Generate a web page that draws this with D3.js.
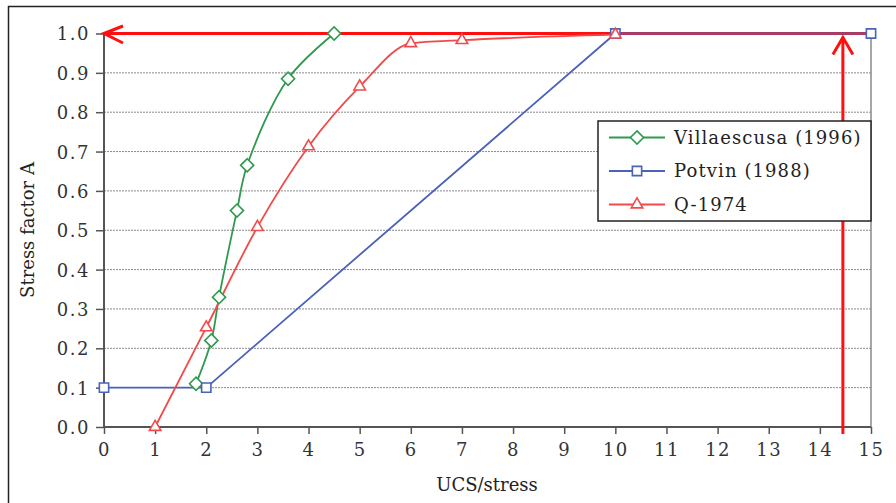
<!DOCTYPE html>
<html>
<head>
<meta charset="utf-8">
<script src="https://cdn.jsdelivr.net/npm/d3@7"></script>
<style>
  html, body { margin: 0; padding: 0; background: #fff; }
</style>
</head>
<body>
<svg id="chart" width="896" height="503"></svg>
<script>
// data
const xTicks = d3.range(0, 16);
const yTicks = d3.range(0, 11).map(d => d / 10);

const villaX = [1.8, 2.1, 2.25, 2.6, 2.8, 3.6, 4.5];
const villaY = [0.11, 0.22, 0.33, 0.55, 0.665, 0.885, 1.0];

const potvinX = [0, 2, 10, 15];
const potvinY = [0.1, 0.1, 1.0, 1.0];

const qX = [1, 2, 3, 4, 5, 6, 7, 10];
const qY = [0.0, 0.253, 0.508, 0.713, 0.865, 0.975, 0.983, 0.997];

// red guide arrows
const arrowX = [14.45];
const arrowY = [1.0];

const seriesNames = ["Villaescusa (1996)", "Potvin (1988)", "Q-1974"];
const seriesColors = ["#2e9a4e", "#4a62b8", "#f24a4a"];
const seriesMarks = ["diamond", "square", "triangle"];

const xTitle = "UCS/stress";
const yTitle = "Stress factor A";

const FONT = "'DejaVu Serif', 'Liberation Serif', serif";

{
    const svg = d3.select("#chart")
        , margin = { left: 104, top: 33.5, right: 25, bottom: 76 }
        , width = 896 - margin.left - margin.right
        , height = 503 - margin.top - margin.bottom
        , x = d3.scaleLinear().domain([0, 15]).range([0, width])
        , y = d3.scaleLinear().domain([0, 1]).range([height, 0]);

    // outer frame
    svg.append("path")
        .attr("d", "M8.5,503 L8.5,6.5 L896,6.5")
        .attr("fill", "none")
        .attr("stroke", "#222")
        .attr("stroke-width", 1.5);

    const g = svg.append("g")
        .attr("transform", "translate(" + margin.left + "," + margin.top + ")");

    // gridlines
    g.append("g")
        .selectAll("line")
        .data(yTicks.filter(d => d > 0 && d < 1))
        .enter().append("line")
        .attr("x1", 0)
        .attr("x2", width)
        .attr("y1", d => y(d))
        .attr("y2", d => y(d))
        .attr("stroke", "#8a8a8a")
        .attr("stroke-width", 1)
        .attr("stroke-dasharray", "2,1");

    // right border of plot
    g.append("line")
        .attr("x1", width).attr("x2", width)
        .attr("y1", 0).attr("y2", height)
        .attr("stroke", "#888")
        .attr("stroke-width", 1.5);

    // axes
    const xAxis = d3.axisBottom(x).tickValues(xTicks).tickSize(7).tickPadding(9).tickFormat(d3.format("d"))
        , yAxis = d3.axisLeft(y).tickValues(yTicks).tickSize(8).tickPadding(6).tickFormat(d3.format(".1f"));

    const gx = g.append("g")
        .attr("transform", "translate(0," + height + ")")
        .call(xAxis);
    const gy = g.append("g").call(yAxis);

    [gx, gy].forEach(a => {
        a.attr("font-family", null).attr("font-size", null);
        a.select(".domain").attr("stroke", "#555").attr("stroke-width", 2);
        a.selectAll(".tick line").attr("stroke", "#555").attr("stroke-width", 1.5);
        a.selectAll(".tick text")
            .style("font-family", FONT)
            .style("font-size", "18px")
            .style("letter-spacing", "1.5px")
            .attr("fill", "#333");
    });
    gx.select(".domain").attr("d", "M0,0H" + width);
    gy.select(".domain").attr("d", "M0," + height + "V0");
    gy.selectAll(".tick text").attr("dy", "0.36em");

    // axis titles
    svg.append("text")
        .attr("x", margin.left + x(7.5) - 0.5)
        .attr("y", 491)
        .attr("text-anchor", "middle")
        .style("font-family", FONT)
        .style("font-size", "18px")
        .attr("fill", "#222")
        .text(xTitle);
    svg.append("text")
        .attr("transform", "translate(34," + 230 + ") rotate(-90)")
        .attr("text-anchor", "middle")
        .style("font-family", FONT)
        .style("font-size", "18px")
        .attr("fill", "#222")
        .text(yTitle);

    // markers
    const symbolFor = {
        diamond: d3.symbol().type(d3.symbolDiamond2).size(110),
        square: d3.symbol().type(d3.symbolSquare2).size(110),
        triangle: d3.symbol().type(d3.symbolTriangle2).size(95)
    };
    const markOffset = { diamond: 0, square: 0, triangle: 0 };

    const series = [
        { name: seriesNames[0], xs: villaX, ys: villaY, curve: d3.curveCatmullRom.alpha(0.5) },
        { name: seriesNames[1], xs: potvinX, ys: potvinY, curve: d3.curveLinear },
        { name: seriesNames[2], xs: qX, ys: qY, curve: d3.curveMonotoneX }
    ];

    const arrowG = g.append("g")
        .attr("stroke", "#ff1010")
        .attr("fill", "none")
        .attr("stroke-width", 3);

    series.forEach((s, i) => {
        const pts = s.xs.map((d, j) => [x(d), y(s.ys[j])]);
        g.append("path")
            .datum(pts)
            .attr("fill", "none")
            .attr("stroke", seriesColors[i])
            .attr("stroke-width", 1.8)
            .attr("d", d3.line().curve(s.curve));
    });

    // horizontal arrow: from x=15 to x=0 at y=1.0
    arrowG.append("line")
        .attr("x1", x(15)).attr("x2", x(0))
        .attr("y1", y(arrowY[0])).attr("y2", y(arrowY[0]));
    arrowG.append("path")
        .attr("d", "M" + (x(0) + 19) + "," + (y(arrowY[0]) - 7.5) + "L" + x(0) + "," + y(arrowY[0]) + "L" + (x(0) + 19) + "," + (y(arrowY[0]) + 9.5));
    // vertical arrow: from below axis up to y=1.0
    const ax = x(arrowX[0]);
    arrowG.append("line")
        .attr("x1", ax).attr("x2", ax)
        .attr("y1", height + 7).attr("y2", y(arrowY[0]) + 4);
    arrowG.append("path")
        .attr("d", "M" + (ax - 10) + "," + (y(arrowY[0]) + 21) + "L" + ax + "," + (y(arrowY[0]) + 4) + "L" + (ax + 10) + "," + (y(arrowY[0]) + 21));

    series.forEach((s, i) => {
        g.append("g")
            .selectAll("path")
            .data(s.xs.map((d, j) => [d, s.ys[j]]))
            .enter().append("path")
            .attr("transform", d => "translate(" + x(d[0]) + "," + (y(d[1]) + markOffset[seriesMarks[i]]) + ")")
            .attr("d", symbolFor[seriesMarks[i]]())
            .attr("fill", "#fff")
            .attr("stroke", seriesColors[i])
            .attr("stroke-width", 1.6);
    });

    // legend
    const lg = svg.append("g").attr("transform", "translate(598,121)");
    lg.append("rect")
        .attr("width", 273)
        .attr("height", 100)
        .attr("fill", "#fff")
        .attr("stroke", "#222")
        .attr("stroke-width", 1.5);
    const item = lg.selectAll("g.item")
        .data(seriesNames)
        .enter().append("g")
        .attr("class", "item")
        .attr("transform", (d, i) => "translate(0," + (16.5 + i * 33.5) + ")");
    item.append("line")
        .attr("x1", 11).attr("x2", 67)
        .attr("stroke", (d, i) => seriesColors[i])
        .attr("stroke-width", 1.8);
    item.append("path")
        .attr("transform", (d, i) => "translate(39," + markOffset[seriesMarks[i]] + ")")
        .attr("d", (d, i) => symbolFor[seriesMarks[i]]())
        .attr("fill", "#fff")
        .attr("stroke", (d, i) => seriesColors[i])
        .attr("stroke-width", 1.6);
    item.append("text")
        .attr("x", 76)
        .attr("dy", "0.35em")
        .style("font-family", FONT)
        .style("font-size", "18px")
        .style("letter-spacing", "1.1px")
        .attr("fill", "#222")
        .text(d => d);
}
</script>
</body>
</html>
